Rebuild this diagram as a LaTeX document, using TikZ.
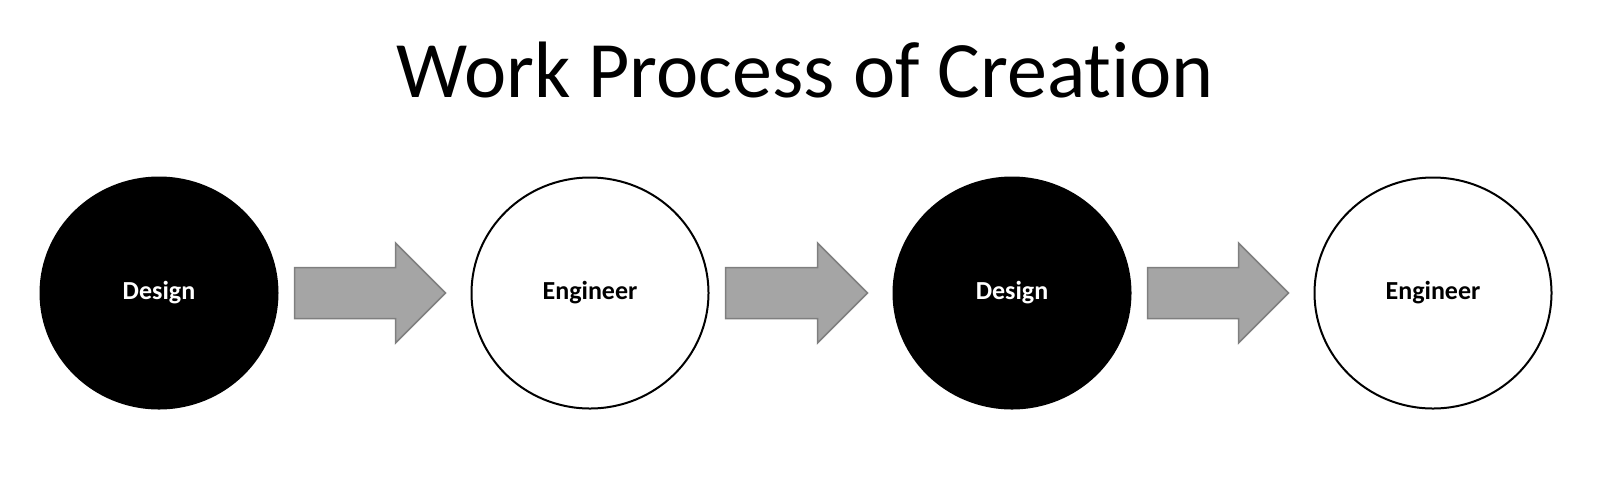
\documentclass[tikz,border=0pt]{standalone}
\usepackage{fontspec}
\setmainfont[Ligatures=NoCommon]{Carlito}
\usepackage{xcolor}
\usepackage{tikz}
\usetikzlibrary{calc,shapes.geometric}
\definecolor{grisflecha}{HTML}{A5A5A5}
\definecolor{bordeflecha}{HTML}{7F7F7F}
\tikzset{
  etapa/.style     = {ellipse, draw=black, line width=1pt, inner sep=0pt,
                      minimum width=118.5pt, minimum height=115.5pt,
                      font=\fontsize{13}{15}\selectfont\bfseries},
  diseno/.style    = {etapa, fill=black, text=white},
  ingeniero/.style = {etapa, fill=white, text=black},
  bloque/.style    = {fill=grisflecha, draw=bordeflecha, line width=0.75pt}
}
% flecha gruesa entre dos etapas
\newcommand{\flecha}[2]{%
  \draw[bloque] let \p1=($(#1.east)+(8pt,0)$), \p2=($(#2.west)+(-12.5pt,0)$) in
    (\x1,\y1+12.75pt) -- (\x2-25pt,\y1+12.75pt) -- (\x2-25pt,\y1+25pt)
    -- (\x2,\y1) -- (\x2-25pt,\y1-25pt) -- (\x2-25pt,\y1-12.75pt)
    -- (\x1,\y1-12.75pt) -- cycle;}

\begin{document}
\begin{tikzpicture}[x=0.5pt, y=-0.5pt]
  \useasboundingbox (0,0) rectangle (1600,484);
  \node[anchor=base, font=\fontsize{40}{48}\selectfont] (titulo) at (805,97) {Work Process of Creation};
  \node[diseno]    (d1) at (159,293)  {Design};
  \node[ingeniero] (e1) at (590,293)  {Engineer};
  \node[diseno]    (d2) at (1012,293) {Design};
  \node[ingeniero] (e2) at (1433,293) {Engineer};
  \flecha{d1}{e1}
  \flecha{e1}{d2}
  \flecha{d2}{e2}
\end{tikzpicture}
\end{document}
